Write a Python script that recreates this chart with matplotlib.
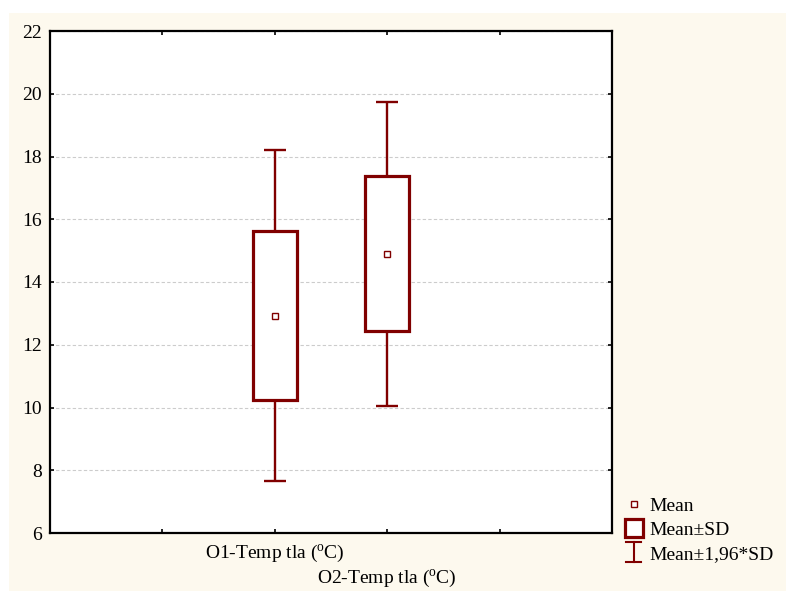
import matplotlib
matplotlib.use("Agg")
import matplotlib.pyplot as plt
from matplotlib.lines import Line2D
from matplotlib.patches import Rectangle
from matplotlib.legend_handler import HandlerBase

plt.rcParams['font.family'] = ['Liberation Serif', 'DejaVu Serif']
plt.rcParams['mathtext.fontset'] = 'custom'
plt.rcParams['mathtext.rm'] = 'Liberation Serif'

# values
variables = [r'O1-Temp tla ($\mathrm{^{o}}$C)', r'O2-Temp tla ($\mathrm{^{o}}$C)']
positions = [2, 3]
means = [12.93, 14.90]
sds = [2.69, 2.47]
y_ticks = [6, 8, 10, 12, 14, 16, 18, 20, 22]

dark_red = '#800000'
cream = '#fdf9ee'
fs = 14


class HandlerCI(HandlerBase):
    """draws the 'I' symbol for Mean+-1.96*SD"""
    def create_artists(self, legend, orig_handle, xdescent, ydescent,
                       width, height, fontsize, trans):
        cx = width / 2 - xdescent
        half = 5.5
        yc = height / 2 - ydescent
        y0 = yc - 7
        y1 = yc + 7
        arts = [
            Line2D([cx, cx], [y0, y1], color=dark_red, lw=1.5),
            Line2D([cx - half, cx + half], [y0, y0], color=dark_red, lw=1.5),
            Line2D([cx - half, cx + half], [y1, y1], color=dark_red, lw=1.5),
        ]
        for a in arts:
            a.set_transform(trans)
        return arts


W, H = 786, 591
fig = plt.figure(figsize=(W / 100, H / 100), dpi=100, facecolor='white')
fig.add_artist(Rectangle((9 / W, 0), 1 - 9 / W, 1 - 13 / H, transform=fig.transFigure,
                         facecolor=cream, edgecolor='none', zorder=-10))
ax = fig.add_axes([50 / W, (H - 533) / H, (612 - 50) / W, (533 - 31) / H])
ax.set_facecolor('white')

lo_box = [m - s for m, s in zip(means, sds)]
hi_box = [m + s for m, s in zip(means, sds)]
lo_ci = [m - 1.96 * s for m, s in zip(means, sds)]
hi_ci = [m + 1.96 * s for m, s in zip(means, sds)]

# whiskers
ax.vlines(positions, lo_ci, lo_box, color=dark_red, lw=1.7, zorder=3)
ax.vlines(positions, hi_box, hi_ci, color=dark_red, lw=1.7, zorder=3)
cap = 0.1
ax.hlines(lo_ci, [p - cap for p in positions], [p + cap for p in positions],
          color=dark_red, lw=1.7, zorder=3)
ax.hlines(hi_ci, [p - cap for p in positions], [p + cap for p in positions],
          color=dark_red, lw=1.7, zorder=3)

# boxes
ax.bar(positions, [2 * s for s in sds], bottom=lo_box, width=0.39,
       facecolor='white', edgecolor=dark_red, linewidth=2.3, zorder=4)

# means
ax.plot(positions, means, ls='none', marker='s', ms=4.5, mfc='white',
        mec=dark_red, mew=1.0, zorder=5)

ax.set_xlim(0, 5)
ax.set_ylim(6, 22)
ax.set_yticks(y_ticks)
ax.set_xticks([1, 2, 3, 4])
ax.set_xticklabels(['', variables[0], variables[1], ''])
ax.grid(axis='y', color='#cccccc', ls=(0, (3, 2)), lw=0.8)
ax.set_axisbelow(True)
for sp in ax.spines.values():
    sp.set_linewidth(1.6)
ax.tick_params(direction='in', length=3, width=1.2, top=True, right=True,
               labelsize=fs, colors='black')
ax.tick_params(axis='y', pad=6)
ax.tick_params(axis='x', pad=7)
ax.xaxis.get_major_ticks()[2].set_pad(25)

handles = [
    Line2D([], [], ls='none', marker='s', ms=4.5, mfc='white', mec=dark_red, mew=1.0),
    Line2D([], [], ls='none', marker='s', ms=13, mfc='white', mec=dark_red, mew=2.3),
    Line2D([], [], ls='none'),
]
labels = ['Mean', 'Mean\u00b1SD', 'Mean\u00b11,96*SD']
fig.legend(handles, labels, loc='upper left', bbox_to_anchor=(621 / W, 1 - 497 / H),
           frameon=False, fontsize=fs, handlelength=1.3, handletextpad=0.15,
           labelspacing=0.33, borderpad=0, borderaxespad=0,
           handler_map={handles[2]: HandlerCI()})

fig.savefig('out.png', dpi=100, facecolor=fig.get_facecolor())
